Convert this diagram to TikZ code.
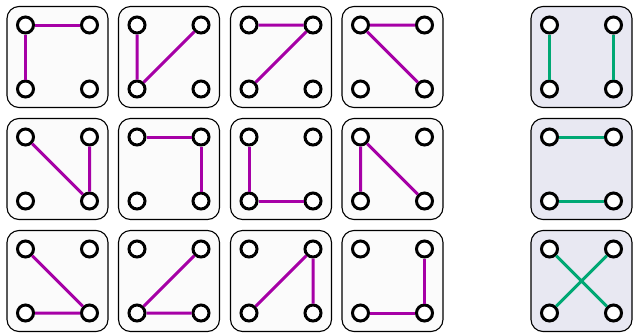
\documentclass[tikz,border=0pt]{standalone}
\usetikzlibrary{positioning}
\definecolor{pp-edge}{HTML}{A600A6}
\definecolor{pp-match}{HTML}{00A874}
\definecolor{pp-card}{HTML}{FBFBFB}
\definecolor{pp-shade}{HTML}{E8E8F2}
\tikzset{
  card/.style={draw, rounded corners=12pt, line width=1.1pt, minimum size=101pt, inner sep=0pt, fill=pp-card},
  vtx/.style={circle, draw, line width=3pt, fill=white, minimum size=16pt, inner sep=0pt},
  pathedge/.style={pp-edge, line width=3pt},
  matchedge/.style={pp-match, line width=3pt},
}

\begin{document}
\begin{tikzpicture}[x=1pt,y=-1pt]
\useasboundingbox (0,0) rectangle (633,333);
% twelve paths on four vertices
\foreach \n/\x/\y/\ea/\eb/\ec/\ed in {
    a/57.5/57/tl/tr/tl/bl, b/169/57/tl/bl/bl/tr, c/281/57/tl/tr/tr/bl, d/392.5/57/tl/tr/tl/br,
    e/57.5/169/tl/br/tr/br, f/169/169/tl/tr/tr/br, g/281/169/tl/bl/bl/br, h/392.5/169/tl/bl/tl/br,
    i/57.5/281/tl/br/bl/br, j/169/281/tr/bl/bl/br, k/281/281/bl/tr/tr/br, l/392.5/281/tr/br/br/bl} {
  \node[card] (\n) at (\x,\y) {};
  \node[vtx] (\n-tl) at (\x-32,\y-32) {};
  \node[vtx] (\n-tr) at (\x+32,\y-32) {};
  \node[vtx] (\n-bl) at (\x-32,\y+32) {};
  \node[vtx] (\n-br) at (\x+32,\y+32) {};
  \draw[pathedge] (\n-\ea) -- (\n-\eb) (\n-\ec) -- (\n-\ed);
}
% the three perfect matchings
\foreach \n/\y/\ea/\eb/\ec/\ed in {
    m1/57/tl/bl/tr/br, m2/169/tl/tr/bl/br, m3/281/tl/br/tr/bl} {
  \node[card, fill=pp-shade] (\n) at (581.5,\y) {};
  \node[vtx] (\n-tl) at (549.5,\y-32) {};
  \node[vtx] (\n-tr) at (613.5,\y-32) {};
  \node[vtx] (\n-bl) at (549.5,\y+32) {};
  \node[vtx] (\n-br) at (613.5,\y+32) {};
  \draw[matchedge] (\n-\ea) -- (\n-\eb) (\n-\ec) -- (\n-\ed);
}
\end{tikzpicture}
\end{document}
